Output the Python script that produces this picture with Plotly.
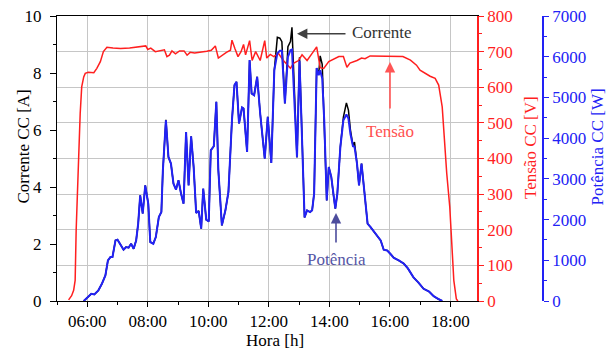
import plotly.graph_objects as go

DAY = "2020-01-01 "

# DC current (A) and DC power (W) share the same time stamps
pc_times = [
    "05:53", "06:02", "06:08", "06:14", "06:22", "06:29", "06:36", "06:41", "06:46", "06:50",
    "06:56", "07:00", "07:05", "07:12", "07:17", "07:22", "07:27", "07:32", "07:37", "07:41",
    "07:45", "07:50", "07:55", "08:01", "08:05", "08:11", "08:16", "08:22", "08:27", "08:30",
    "08:36", "08:41", "08:46", "08:51", "08:56", "09:01", "09:06", "09:11", "09:16", "09:21",
    "09:26", "09:31", "09:36", "09:41", "09:46", "09:50", "09:56", "10:01", "10:05", "10:11",
    "10:16", "10:20", "10:27", "10:34", "10:40", "10:47", "10:52", "10:56", "11:01", "11:07",
    "11:10", "11:17", "11:22", "11:26", "11:31", "11:37", "11:43", "11:52", "11:58", "12:05",
    "12:11", "12:17", "12:22", "12:26", "12:32", "12:38", "12:43", "12:46", "12:56", "13:01",
    "13:11", "13:16", "13:22", "13:26", "13:30", "13:35", "13:39", "13:42", "13:46", "13:50",
    "13:55", "13:59", "14:04", "14:08", "14:12", "14:16", "14:22", "14:28", "14:34", "14:38",
    "14:42", "14:47", "14:50", "14:55", "14:59", "15:04", "15:07", "15:12", "15:16", "15:22",
    "15:30", "15:35", "15:42", "15:48", "15:55", "16:01", "16:08", "16:18", "16:28", "16:36",
    "16:47", "16:57", "17:07", "17:18", "17:27", "17:36", "17:44",
]

corrente_a = [
    0, 0.17, 0.25, 0.23, 0.37, 0.60, 0.90, 1.42, 1.54, 1.54,
    2.13, 2.15, 2.01, 1.80, 1.89, 1.87, 2.01, 1.83, 2.13, 2.71,
    3.71, 3.07, 4.06, 3.42, 2.07, 2.01, 2.24, 2.95, 3.12, 4.59,
    6.36, 5.05, 4.82, 4.12, 3.91, 4.24, 3.77, 3.42, 5.93, 4.06,
    5.78, 4.70, 3.09, 3.16, 2.54, 3.94, 2.85, 2.79, 5.29, 5.43,
    6.99, 4.59, 2.65, 3.18, 3.82, 6.34, 7.57, 7.69, 6.23, 6.79,
    6.76, 5.23, 8.45, 7.28, 7.22, 7.87, 6.58, 5.00, 6.46, 4.84,
    8.10, 9.25, 9.22, 9.10, 6.93, 8.92, 9.10, 9.60, 5.04, 8.55,
    2.93, 3.18, 3.12, 3.18, 3.77, 8.17, 7.95, 8.60, 8.30, 6.40,
    3.53, 4.70, 4.35, 3.77, 3.24, 3.77, 5.41, 6.45, 6.95, 6.70,
    6.00, 5.45, 5.58, 4.82, 4.06, 4.82, 4.24, 3.30, 2.71, 2.59,
    2.40, 2.30, 2.12, 1.80, 1.77, 1.66, 1.52, 1.42, 1.31, 1.14,
    0.83, 0.64, 0.43, 0.33, 0.17, 0.07, 0,
]

potencia_w = [
    0, 118, 177, 160, 258, 423, 627, 996, 1078, 1078,
    1488, 1505, 1407, 1260, 1324, 1309, 1407, 1284, 1488, 1899,
    2595, 2145, 2841, 2391, 1446, 1407, 1570, 2062, 2185, 3210,
    4440, 3538, 3375, 2883, 2735, 2964, 2637, 2391, 4152, 2841,
    4047, 3292, 2160, 2209, 1776, 2760, 1998, 1956, 3702, 3801,
    4891, 3210, 1857, 2227, 2677, 4440, 5301, 5383, 4359, 4753,
    4728, 3661, 5916, 5097, 5055, 5506, 4605, 3498, 4522, 3390,
    5670, 6081, 6145, 6145, 4851, 5997, 6162, 6179, 3530, 5900,
    2054, 2227, 2185, 2227, 2637, 5720, 5547, 5670, 5465, 4440,
    2472, 3291, 3046, 2637, 2268, 2637, 3784, 4440, 4580, 4480,
    4100, 3800, 3790, 3375, 2841, 3375, 2964, 2307, 1899, 1816,
    1680, 1611, 1488, 1260, 1240, 1160, 1060, 996, 915, 800,
    580, 450, 300, 230, 120, 50, 0,
]

# DC voltage (V)
v_times = [
    "05:23", "05:29", "05:33", "05:36", "05:38", "05:40", "05:43", "05:46", "05:49", "05:53",
    "05:56", "06:02", "06:13", "06:19", "06:26", "06:32", "06:39", "06:51", "07:06", "07:24",
    "07:39", "07:56", "08:00", "08:06", "08:15", "08:24", "08:33", "08:38", "08:43", "08:48",
    "08:55", "09:03", "09:12", "09:18", "09:24", "09:33", "09:45", "09:57", "10:06", "10:14",
    "10:20", "10:27", "10:36", "10:44", "10:47", "10:53", "10:59", "11:05", "11:10", "11:14",
    "11:22", "11:27", "11:34", "11:43", "11:52", "11:56", "12:03", "12:10", "12:19", "12:29",
    "12:43", "12:49", "12:59", "13:06", "13:16", "13:26", "13:35", "13:42", "13:49", "13:59",
    "14:08", "14:19", "14:28", "14:35", "14:41", "14:55", "15:04", "15:11", "15:21", "15:34",
    "16:00", "16:26", "16:41", "16:53", "17:00", "17:10", "17:20", "17:30", "17:37", "17:44",
    "17:48", "17:53", "17:59", "18:04", "18:07", "18:12", "18:15",
]

tensao_v = [
    3, 15, 30, 58, 198, 311, 404, 526, 601, 629,
    639, 642, 641, 653, 672, 700, 712, 710, 709, 710,
    712, 716, 706, 710, 700, 703, 705, 686, 690, 702,
    694, 702, 702, 690, 698, 696, 698, 701, 704, 716,
    682, 690, 698, 704, 732, 708, 686, 700, 720, 691,
    731, 675, 700, 675, 731, 682, 692, 686, 695, 675,
    653, 667, 675, 691, 675, 695, 713, 655, 653, 672,
    679, 686, 686, 656, 668, 675, 682, 680, 688, 688,
    688, 686, 676, 662, 648, 639, 631, 625, 606, 545,
    451, 358, 264, 123, 58, 6, 0,
]

x_ticks = ["06:00", "08:00", "10:00", "12:00", "14:00", "16:00", "18:00"]

FONT = "Liberation Serif"
RED = "#ff1f1f"
BLUE = "#2222f5"
GRID = "#c6c6c6"

W, H = 611, 353
ML, MR, MT, MB = 57, 8, 16, 52
PW = W - ML - MR
PH = H - MT - MB
PLOT_RIGHT = 477
BLUE_AXIS = 543


def px(xp):
    return (xp - ML) / PW


def py(yp):
    return (H - MB - yp) / PH


fig = go.Figure()
fig.add_trace(go.Scatter(x=[DAY + t for t in pc_times], y=corrente_a, name="Corrente",
                         mode="lines", line=dict(color="#000000", width=1.5), yaxis="y"))
fig.add_trace(go.Scatter(x=[DAY + t for t in v_times], y=tensao_v, name="Tensão",
                         mode="lines", line=dict(color=RED, width=1.5), yaxis="y2"))
fig.add_trace(go.Scatter(x=[DAY + t for t in pc_times], y=potencia_w, name="Potência",
                         mode="lines", line=dict(color=BLUE, width=2), yaxis="y3"))

tickfont = dict(family=FONT, size=17)

fig.update_layout(
    width=W, height=H,
    margin=dict(l=ML, r=MR, t=MT, b=MB, autoexpand=False),
    paper_bgcolor="white", plot_bgcolor="white",
    showlegend=False,
    font=dict(family=FONT, size=17, color="black"),
    xaxis=dict(
        type="date", domain=[0, (PLOT_RIGHT - ML) / PW],
        range=[DAY + "05:00", DAY + "18:53"],
        tickmode="array", tickvals=[DAY + t for t in x_ticks], ticktext=x_ticks,
        ticks="outside", ticklen=5, tickcolor="black", tickfont=tickfont,
        showline=True, linecolor="black", linewidth=1, mirror=True,
        showgrid=True, gridcolor=GRID, gridwidth=1, zeroline=False,
        minor=dict(tickmode="linear", tick0=DAY + "05:00", dtick=3600000,
                   ticks="outside", ticklen=3, tickcolor="black", showgrid=False),
    ),
    yaxis=dict(
        range=[0, 10], tickmode="linear", tick0=0, dtick=2,
        ticks="outside", ticklen=6, tickcolor="black", tickfont=tickfont,
        ticklabelstandoff=5,
        showline=True, linecolor="black", linewidth=1,
        showgrid=False, zeroline=False,
        minor=dict(tickmode="linear", tick0=0, dtick=1, ticks="outside",
                   ticklen=3, tickcolor="black", showgrid=False),
    ),
    yaxis2=dict(
        overlaying="y", side="right", anchor="x",
        range=[0, 800], tickmode="linear", tick0=0, dtick=100,
        ticks="outside", ticklen=5, tickcolor=RED,
        tickfont=dict(family=FONT, size=17, color=RED),
        showline=True, linecolor=RED, linewidth=1.5,
        showgrid=True, gridcolor=GRID, gridwidth=1, zeroline=False,
        minor=dict(tickmode="linear", tick0=0, dtick=50, ticks="outside",
                   ticklen=3, tickcolor=RED, showgrid=False),
    ),
    yaxis3=dict(
        overlaying="y", side="right", anchor="free", position=px(BLUE_AXIS),
        range=[0, 7000], tickmode="linear", tick0=0, dtick=1000,
        ticks="outside", ticklen=5, tickcolor=BLUE,
        tickfont=dict(family=FONT, size=17, color=BLUE),
        showline=True, linecolor=BLUE, linewidth=1.5,
        showgrid=False, zeroline=False,
        minor=dict(tickmode="linear", tick0=0, dtick=500, ticks="outside",
                   ticklen=3, tickcolor=BLUE, showgrid=False),
    ),
)

annotations = [
    # axis titles
    dict(text="Corrente CC [A]", x=px(22.5), y=py(147), textangle=-90,
         font=dict(color="black")),
    dict(text="Tensão CC [V]", x=px(530), y=py(148), textangle=-90,
         font=dict(color=RED)),
    dict(text="Potência CC [W]", x=px(597), y=py(147.5), textangle=-90,
         font=dict(color=BLUE)),
    dict(text="Hora [h]", x=px(275), y=py(340), font=dict(color="black")),
    # series labels
    dict(text="Corrente", x=px(381.5), y=py(33), font=dict(color="#333333")),
    dict(text="Tensão", x=px(390), y=py(131), font=dict(color="#ff5050")),
    dict(text="Potência", x=px(336.5), y=py(259), font=dict(color="#5555a5")),
]
for a in annotations:
    a.update(xref="paper", yref="paper", xanchor="center", yanchor="middle",
             showarrow=False)
    a["font"].update(family=FONT, size=17)

arrows = [
    dict(x=px(297), y=py(33.7), ax=50, ay=0, arrowcolor="#404040"),
    dict(x=px(390), y=py(62), ax=0, ay=48, arrowcolor="#ff5555"),
    dict(x=px(336), y=py(213), ax=0, ay=31, arrowcolor="#4d4d9d"),
]
for a in arrows:
    a.update(xref="paper", yref="paper", text="", showarrow=True,
             axref="pixel", ayref="pixel", arrowhead=2, arrowsize=1.3,
             arrowwidth=1.6, standoff=0, startstandoff=0)

fig.update_layout(annotations=annotations + arrows)

fig.write_html("out.html")
